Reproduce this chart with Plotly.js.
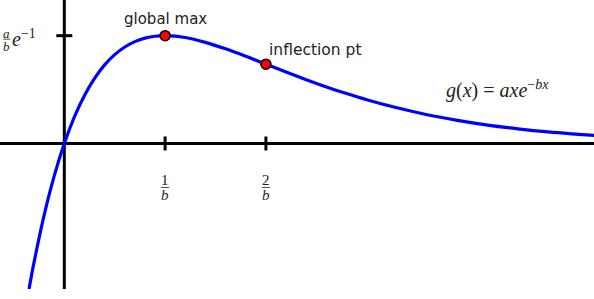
<!DOCTYPE html>
<html>
<head>
<meta charset="utf-8">
<script src="https://cdn.plot.ly/plotly-3.0.1.min.js"></script>
<style>html,body{margin:0;padding:0;background:#fff;}#chart{width:594px;height:299px;}</style>
</head>
<body>
<div id="chart"></div>
<script>
// Curve g(x) = a x e^{-bx}, with units x in 1/b and y in (a/b)e^{-1}
const curveX = [-0.35, -0.3, -0.2, -0.1, 0, 0.1, 0.2, 0.3, 0.4, 0.5, 0.6, 0.7, 0.8, 0.9, 1.0,
                1.2, 1.4, 1.6, 1.8, 2.0, 2.2, 2.4, 2.6, 2.8, 3.0, 3.3, 3.6, 3.9, 4.2, 4.5, 4.8, 5.1, 5.26];
const curveY = [-1.350, -1.101, -0.664, -0.300, 0, 0.246, 0.445, 0.604, 0.729, 0.824, 0.895, 0.945, 0.977, 0.995, 1.0,
                0.983, 0.938, 0.878, 0.809, 0.736, 0.663, 0.592, 0.525, 0.463, 0.406, 0.331, 0.267, 0.215, 0.171, 0.136, 0.107, 0.085, 0.074];

// Marked points
const pointX = [1, 2];
const pointY = [1.0, 0.736];
const pointLabels = ['global max', 'inflection pt'];

// Tick values and labels
const xTickVals = [1, 2];
const xTickNum = ['1', '2'];
const xTickDen = ['b', 'b'];
const yTickVals = [1.0];

const formulaText = '<i>g</i>(<i>x</i>) = <i>axe</i><sup>−<i>bx</i></sup>';

const xRange = [-0.638, 5.255];
const yRange = [-1.4425, 1.331];
const yAxisBottom = -1.35;

const serif = 'Liberation Serif, Times New Roman, serif';
const sans = 'DejaVu Sans, sans-serif';

const traces = [
  {x: curveX, y: curveY, mode: 'lines', line: {color: '#0000ff', width: 3.2, shape: 'spline', smoothing: 1},
   hoverinfo: 'skip', showlegend: false},
  {x: pointX, y: pointY, mode: 'markers',
   marker: {color: '#ff0000', size: 10, line: {color: '#000', width: 1.5}},
   hoverinfo: 'skip', showlegend: false}
];

const shapes = [
  // x axis
  {type: 'line', xref: 'paper', yref: 'y', x0: 0, x1: 1, y0: 0, y1: 0, line: {color: '#000', width: 3}, layer: 'below'},
  // y axis
  {type: 'line', xref: 'x', yref: 'y', x0: 0, x1: 0, y0: yAxisBottom, y1: yRange[1], line: {color: '#000', width: 3}, layer: 'below'}
];
xTickVals.forEach(v => {
  shapes.push({type: 'line', xref: 'x', yref: 'y', x0: v, x1: v, ysizemode: 'pixel', yanchor: 0, y0: -7, y1: 7,
               line: {color: '#000', width: 3}});
  shapes.push({type: 'line', xref: 'x', yref: 'y', xsizemode: 'pixel', xanchor: v, x0: -4, x1: 4,
               ysizemode: 'pixel', yanchor: 0, y0: -44, y1: -44, line: {color: '#222', width: 0.8}});
});
yTickVals.forEach(v => {
  shapes.push({type: 'line', xref: 'x', yref: 'y', xsizemode: 'pixel', xanchor: 0, x0: -8, x1: 8, y0: v, y1: v,
               line: {color: '#000', width: 3}});
  // fraction bar of a/b
  shapes.push({type: 'line', xref: 'x', yref: 'y', xsizemode: 'pixel', xanchor: 0, x0: -61, x1: -54,
               ysizemode: 'pixel', yanchor: v, y0: -3.5, y1: -3.5, line: {color: '#222', width: 0.8}});
});

const annotations = [];
xTickVals.forEach((v, i) => {
  annotations.push({x: v, y: 0, xref: 'x', yref: 'y', text: xTickNum[i], showarrow: false, yshift: -37,
                    font: {family: serif, size: 15, color: '#222'}});
  annotations.push({x: v, y: 0, xref: 'x', yref: 'y', text: '<i>' + xTickDen[i] + '</i>', showarrow: false, yshift: -52,
                    font: {family: serif, size: 15, color: '#222'}});
});
yTickVals.forEach(v => {
  annotations.push({x: 0, y: v, xref: 'x', yref: 'y', text: '<i>a</i>', showarrow: false, xshift: -57.5, yshift: 2,
                    font: {family: serif, size: 13, color: '#222'}});
  annotations.push({x: 0, y: v, xref: 'x', yref: 'y', text: '<i>b</i>', showarrow: false, xshift: -57.5, yshift: -11,
                    font: {family: serif, size: 13, color: '#222'}});
  annotations.push({x: 0, y: v, xref: 'x', yref: 'y', text: '<i>e</i><sup>−1</sup>', showarrow: false,
                    xanchor: 'left', xshift: -54, yshift: -2,
                    font: {family: serif, size: 20, color: '#222'}});
});
annotations.push({x: pointX[0], y: pointY[0], xref: 'x', yref: 'y', text: pointLabels[0], showarrow: false,
                  yshift: 17, font: {family: sans, size: 15, color: '#222'}});
annotations.push({x: pointX[1], y: pointY[1], xref: 'x', yref: 'y', text: pointLabels[1], showarrow: false,
                  xanchor: 'left', xshift: 1, yshift: 14, font: {family: sans, size: 15.5, color: '#222'}});
annotations.push({x: 4.3, y: 0.5, xref: 'x', yref: 'y', text: formulaText, showarrow: false,
                  font: {family: serif, size: 20, color: '#222'}});

const layout = {
  width: 594, height: 299,
  margin: {l: 0, r: 0, t: 0, b: 0, pad: 0},
  paper_bgcolor: '#fff', plot_bgcolor: '#fff',
  xaxis: {range: xRange, visible: false, fixedrange: true},
  yaxis: {range: yRange, visible: false, fixedrange: true},
  shapes: shapes,
  annotations: annotations,
  showlegend: false
};

Plotly.newPlot('chart', traces, layout, {displayModeBar: false, staticPlot: true});
</script>
</body>
</html>
